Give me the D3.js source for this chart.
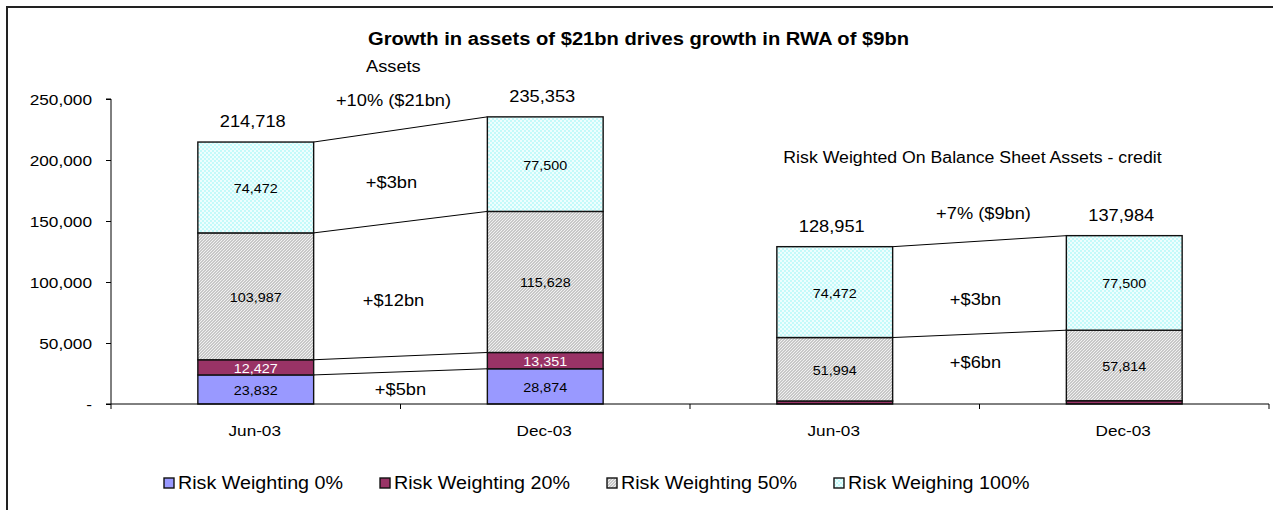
<!DOCTYPE html>
<html lang="en">
<head>
<meta charset="UTF-8">
<title>Growth in assets drives growth in RWA</title>
<script src="https://cdn.jsdelivr.net/npm/d3@7"></script>
<style>
  body { margin: 0; background: #fff; }
  text { font-family: "Liberation Sans", Arial, sans-serif; fill: #000; }
</style>
</head>
<body>
<script>
// chart data
var categories = ["Jun-03", "Dec-03", "Jun-03", "Dec-03"];
var seriesNames = ["Risk Weighting 0%", "Risk Weighting 20%", "Risk Weighting 50%", "Risk Weighing 100%"];
var rw0 = [23832, 28874, 0, 0];
var rw20 = [12427, 13351, 2485, 2670];
var rw50 = [103987, 115628, 51994, 57814];
var rw100 = [74472, 77500, 74472, 77500];
var totals = [214718, 235353, 128951, 137984];
var yTicks = [0, 50000, 100000, 150000, 200000, 250000];
var growthLabels = ["+10% ($21bn)", "+$3bn", "+$12bn", "+$5bn", "+7% ($9bn)", "+$3bn", "+$6bn"];

var w = 1273, h = 510;
var stretch = 1.12; // glyphs in the original are a bit wide

var svg = d3.select("body").append("svg").attr("width", w).attr("height", h);

// patterns
var defs = svg.append("defs");
var hatch = defs.append("pattern").attr("id", "hatch").attr("patternUnits", "userSpaceOnUse")
  .attr("width", 3).attr("height", 3);
hatch.append("rect").attr("width", 3).attr("height", 3).attr("fill", "#c8c8c8");
hatch.append("path").attr("d", "M-1,1 L1,-1 M0,3 L3,0 M2,4 L4,2").attr("stroke", "#f6f6f6").attr("stroke-width", 0.9);
var check = defs.append("pattern").attr("id", "check").attr("patternUnits", "userSpaceOnUse")
  .attr("width", 4).attr("height", 4);
check.append("rect").attr("width", 4).attr("height", 4).attr("fill", "#c4fafa");
check.append("rect").attr("width", 2).attr("height", 2).attr("fill", "#eefefe");
check.append("rect").attr("x", 2).attr("y", 2).attr("width", 2).attr("height", 2).attr("fill", "#eefefe");

var fills = ["#9999ff", "#993366", "url(#hatch)", "url(#check)"];
var labelColors = ["#000", "#fff", "#000", "#000"];

// frame
svg.append("rect").attr("x", 7).attr("y", 7).attr("width", w + 10).attr("height", h + 10)
  .attr("fill", "none").attr("stroke", "#222").attr("stroke-width", 2);

// scales
var xScale = d3.scaleBand().domain(d3.range(categories.length))
  .range([111, 1269]).paddingInner(0.6).paddingOuter(0.3);
var step = xScale.step();
var yScale = d3.scaleLinear().domain([0, 250000]).range([404, 99]);

// stack
var stackData = categories.map(function(c, i) {
  return { i: i, s0: rw0[i], s1: rw20[i], s2: rw50[i], s3: rw100[i] };
});
var stacked = d3.stack().keys(["s0", "s1", "s2", "s3"])(stackData);

// connecting lines between paired bars
var pairs = [[0, 1], [2, 3]];
pairs.forEach(function(p) {
  stacked.forEach(function(layer, k) {
    var a = layer[p[0]], b = layer[p[1]];
    if (a[1] - a[0] === 0 && b[1] - b[0] === 0) return;
    if (p[0] === 2 && k === 1) return; // tiny 20% slice on RWA is not linked
    svg.append("line")
      .attr("x1", xScale(p[0]) + xScale.bandwidth()).attr("y1", yScale(a[1]))
      .attr("x2", xScale(p[1])).attr("y2", yScale(b[1]))
      .attr("stroke", "#000").attr("stroke-width", 1);
  });
});

// bars
var layers = svg.selectAll("g.layer").data(stacked).enter().append("g").attr("class", "layer");
layers.selectAll("rect")
  .data(function(d) { return d.filter(function(e) { return e[1] - e[0] > 0; }); })
  .enter().append("rect")
  .attr("x", function(d) { return xScale(d.data.i); })
  .attr("y", function(d) { return yScale(d[1]); })
  .attr("width", xScale.bandwidth())
  .attr("height", function(d) { return yScale(d[0]) - yScale(d[1]); })
  .attr("fill", function() { return fills[d3.select(this.parentNode).datum().index]; })
  .attr("stroke", "#111").attr("stroke-width", 1.4);

// segment labels
var fmt = d3.format(",");
layers.selectAll("text")
  .data(function(d) { return d.filter(function(e) { return yScale(e[0]) - yScale(e[1]) > 12; }); })
  .enter().append("text")
  .attr("x", function(d) { return xScale(d.data.i) + xScale.bandwidth() / 2; })
  .attr("y", function(d) { return (yScale(d[0]) + yScale(d[1])) / 2 + 1; })
  .attr("text-anchor", "middle").attr("dominant-baseline", "central")
  .attr("font-size", 12.8)
  .style("fill", function() { return labelColors[d3.select(this.parentNode).datum().index]; })
  .text(function(d) { return fmt(d[1] - d[0]); });

// totals
svg.selectAll("text.total").data(totals).enter().append("text").attr("class", "total")
  .attr("x", function(d, i) { return xScale(i) + xScale.bandwidth() / 2 - 3; })
  .attr("y", function(d) { return yScale(d) - 15; })
  .attr("text-anchor", "middle").attr("font-size", 16.3)
  .text(function(d) { return fmt(d); });

// y axis
var yAxis = d3.axisLeft(yScale).tickValues(yTicks).tickSize(5).tickPadding(14)
  .tickFormat(function(d) { return d === 0 ? "-" : fmt(d); });
var gy = svg.append("g").attr("transform", "translate(111,0)").call(yAxis);
gy.select(".domain").attr("stroke", "#000").attr("d", "M-5,99H0V404H-5");
gy.selectAll("text").attr("font-size", 15.4).attr("font-family", null).attr("dy", "0.38em");
gy.selectAll("line").attr("stroke", "#000");

// x axis with ticks at category edges
svg.append("line").attr("x1", 111).attr("x2", 1269).attr("y1", 404).attr("y2", 404)
  .attr("stroke", "#000");
d3.range(categories.length + 1).forEach(function(i) {
  var x = 111 + i * step;
  svg.append("line").attr("x1", x).attr("x2", x).attr("y1", 404).attr("y2", 409).attr("stroke", "#000");
});
svg.selectAll("text.xlab").data(categories).enter().append("text").attr("class", "xlab")
  .attr("x", function(d, i) { return xScale(i) + xScale.bandwidth() / 2 - 1; })
  .attr("y", 436).attr("text-anchor", "middle").attr("font-size", 15.3)
  .text(function(d) { return d; });

// titles
svg.append("text").attr("x", 368).attr("y", 45).attr("font-size", 18).attr("font-weight", "bold")
  .text("Growth in assets of $21bn drives growth in RWA of $9bn");
svg.append("text").attr("x", 366).attr("y", 72).attr("font-size", 16.3).text("Assets");
svg.append("text").attr("x", xScale(2) + xScale.bandwidth() / 2 + step / 2 - 7).attr("y", yScale(202000) + 5)
  .attr("text-anchor", "middle").attr("font-size", 15.8)
  .text("Risk Weighted On Balance Sheet Assets - credit");

// growth annotations: gap between bar pair, value height, nudge
var annotPos = [[0, 249000, -7], [0, 182000, -9], [0, 85000, -7], [0, 12300, 0],
                [2, 156600, 4], [2, 86000, -4], [2, 34400, -4]];
growthLabels.forEach(function(t, k) {
  var p = annotPos[k];
  svg.append("text")
    .attr("x", xScale(p[0]) + step / 2 + xScale.bandwidth() / 2 + p[2])
    .attr("y", yScale(p[1]) + 6)
    .attr("text-anchor", "middle").attr("font-size", 16.3)
    .text(t);
});

// legend
var legend = svg.append("g");
var lx = 164;
seriesNames.forEach(function(name, i) {
  legend.append("rect").attr("x", lx).attr("y", 478).attr("width", 10).attr("height", 10)
    .attr("fill", fills[i]).attr("stroke", "#111").attr("stroke-width", 1.4);
  var t = legend.append("text").attr("x", lx + 14).attr("y", 489).attr("font-size", 17.6).text(name);
  var tw = t.node().getComputedTextLength() * stretch;
  lx += 14 + tw + 37;
});

// widen glyphs to match original rendering
svg.selectAll("text").each(function() {
  var len = this.getComputedTextLength();
  d3.select(this).attr("textLength", len * stretch).attr("lengthAdjust", "spacingAndGlyphs");
});
</script>
</body>
</html>
